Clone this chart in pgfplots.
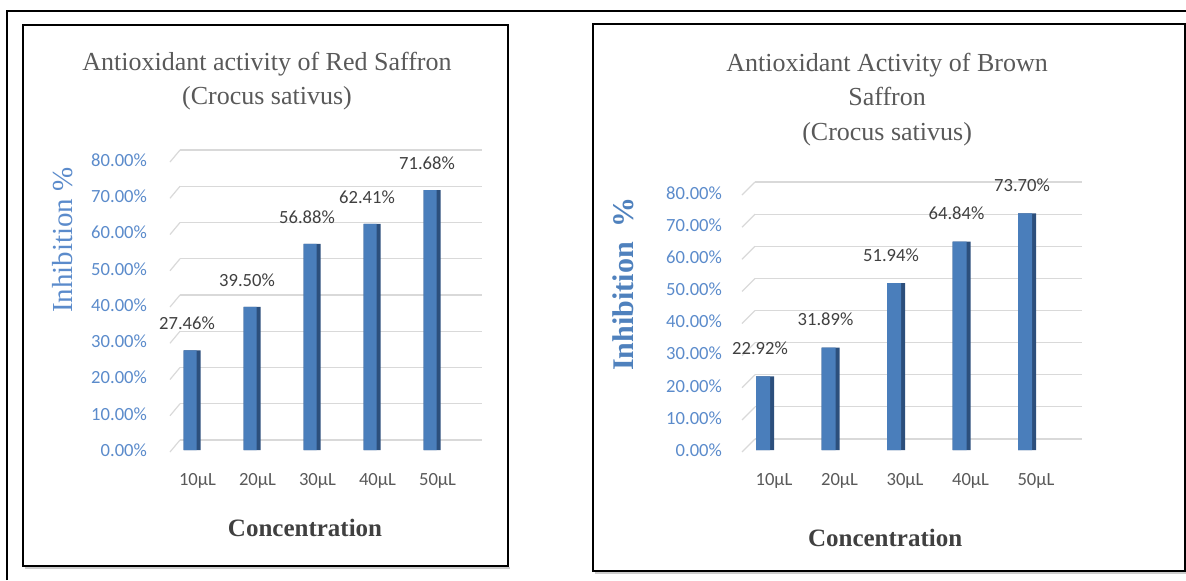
\documentclass[border=0pt]{standalone}
\usepackage{pgfplots}
\pgfplotsset{compat=1.18}
\usepackage{fontspec}
\setmainfont{Liberation Serif}
\newfontfamily\carlito{Carlito}
\definecolor{barfront}{HTML}{4A7EBB}
\definecolor{barside}{HTML}{2C4F7C}
\definecolor{ticblue}{HTML}{5B8BCB}
\definecolor{labgray}{HTML}{404040}
\definecolor{titlegray}{HTML}{595959}
\definecolor{gridgray}{HTML}{D9D9D9}
\definecolor{ylabblue}{HTML}{5B8BCB}
\definecolor{ylabblueb}{HTML}{4F81BD}

\pgfplotsset{
  saff/.style={
    scale only axis, anchor=south west, clip=false,
    ymin=0, ymax=80, ytick={0,10,...,80},
    xtick={0,1,2,3,4}, xticklabels={10µL,20µL,30µL,40µL,50µL},
    axis line style={draw=none}, major tick length=0pt,
    ymajorgrids,
    /pgf/number format/assume math mode=true,
    yticklabel={\pgfmathprintnumber[fixed,fixed zerofill,precision=2]{\tick}\%},
    yticklabel style={font=\carlito\fontsize{9.3}{11}\selectfont, text=ticblue, anchor=east, xshift=-13pt},
    xticklabel style={font=\carlito\fontsize{9.3}{11}\selectfont, text=titlegray, anchor=north, yshift=-8pt},
    ybar,
    title style={font=\fontsize{13}{17.4}\selectfont, text=titlegray, align=center, anchor=center},
    xlabel style={font=\bfseries\fontsize{12.5}{15}\selectfont, text=labgray, anchor=center},
    ylabel style={anchor=center},
    nodes near coords={\pgfmathprintnumber[fixed,fixed zerofill,precision=2]{\pgfplotspointmeta}\%},
    every node near coord/.append style={font=\carlito\fontsize{9.3}{11}\selectfont, text=labgray, anchor=center, xshift=-2.5pt},
  }
}

\begin{document}
\begin{tikzpicture}
\useasboundingbox (0,0) rectangle (593pt,290pt);
\draw[line width=0.75pt] (3.5pt,0) -- (3.5pt,284.5pt) -- (593pt,284.5pt);
\draw[gray!40, line width=0.8pt] (12.5pt,6pt) -- (255pt,6pt);
\draw[gray!40, line width=0.8pt] (297.5pt,3.5pt) -- (593pt,3.5pt);
\draw[line width=0.8pt] (11.5pt,7pt) rectangle (254pt,277.5pt);
\draw[line width=0.8pt] (296.5pt,4.5pt) rectangle (592.5pt,278pt);

% Left chart
\begin{axis}[saff,
  at={(90pt,65pt)}, width=151pt, height=145pt,
  xmin=-0.2, xmax=4.833,
  major grid style={draw=gridgray, line width=0.6pt, yshift=5pt},
  xticklabel style={xshift=2.75pt},
  every node near coord/.append style={yshift=13.5pt},
  title={Antioxidant activity of Red Saffron\\(Crocus sativus)},
  title style={at={(rel axis cs:0.288,1.231)}},
  xlabel={Concentration},
  xlabel style={at={(rel axis cs:0.414,-0.269)}},
  ylabel={Inhibition \%},
  ylabel style={at={(rel axis cs:-0.387,0.724)}, font=\fontsize{14.5}{16}\selectfont, text=ylabblue},
]
\addplot[fill=barside, draw=none, bar width=8.5pt, bar shift=0pt]
  coordinates {(0,27.46) (1,39.50) (2,56.88) (3,62.41) (4,71.68)};
\addplot[fill=barfront, draw=none, bar width=6.5pt, bar shift=-1pt, nodes near coords={}]
  coordinates {(0,27.46) (1,39.50) (2,56.88) (3,62.41) (4,71.68)};
\pgfplotsinvokeforeach{0,10,...,80}{
  \draw[gridgray, line width=0.6pt] ([yshift=5pt]axis cs:-0.2,#1) -- ++(-5pt,-6pt);
}
\end{axis}

% Right chart
\begin{axis}[saff,
  at={(377.5pt,65pt)}, width=163.5pt, height=128.5pt,
  xmin=-0.153, xmax=4.84,
  major grid style={draw=gridgray, line width=0.6pt, yshift=5.5pt},
  xticklabel style={xshift=4.5pt},
  every node near coord/.append style={yshift=14pt},
  title={Antioxidant Activity of Brown\\Saffron\\(Crocus sativus)},
  title style={at={(rel axis cs:0.404,1.3175)}},
  xlabel={Concentration},
  xlabel style={at={(rel axis cs:0.398,-0.342)}},
  ylabel={Inhibition\ \ \%},
  ylabel style={at={(rel axis cs:-0.404,0.646)}, font=\bfseries\fontsize{15}{17}\selectfont, text=ylabblueb},
]
\addplot[fill=barside, draw=none, bar width=9pt, bar shift=0pt]
  coordinates {(0,22.92) (1,31.89) (2,51.94) (3,64.84) (4,73.70)};
\addplot[fill=barfront, draw=none, bar width=7pt, bar shift=-1pt, nodes near coords={}]
  coordinates {(0,22.92) (1,31.89) (2,51.94) (3,64.84) (4,73.70)};
\pgfplotsinvokeforeach{0,10,...,80}{
  \draw[gridgray, line width=0.6pt] ([yshift=5.5pt]axis cs:-0.153,#1) -- ++(-6.5pt,-6.5pt);
}
\end{axis}
\end{tikzpicture}
\end{document}
